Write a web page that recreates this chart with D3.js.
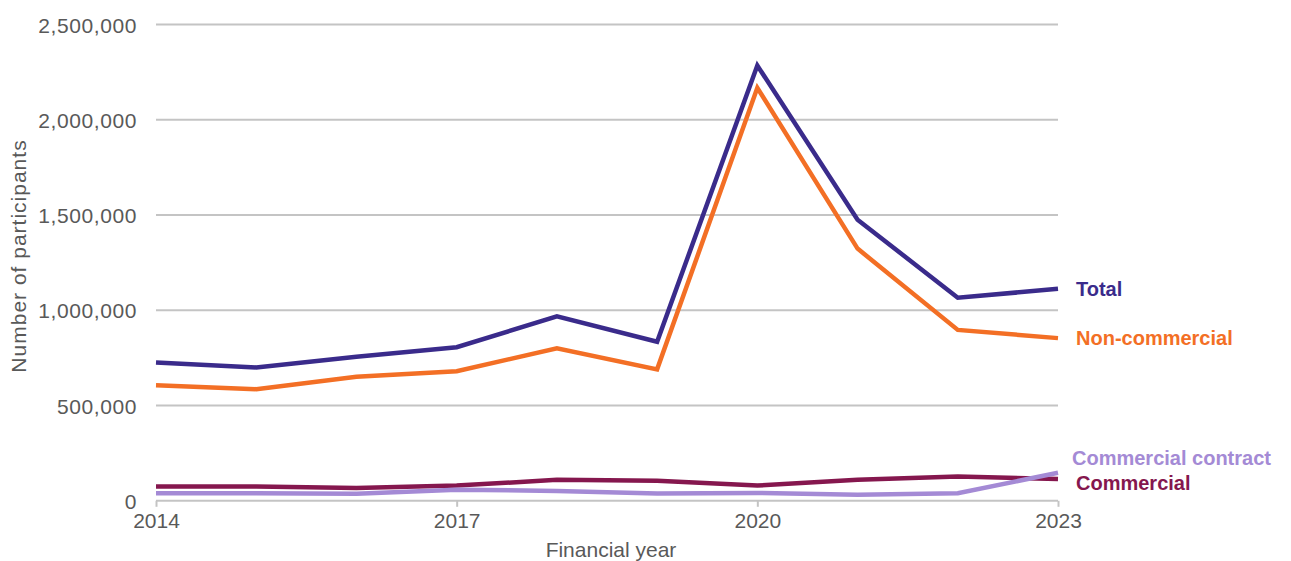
<!DOCTYPE html>
<html>
<head>
<meta charset="utf-8">
<script src="https://cdn.jsdelivr.net/npm/d3@7"></script>
<style>
  html, body { margin: 0; padding: 0; background: #fff; }
  svg { display: block; font-family: "Liberation Sans", Arial, sans-serif; }
</style>
</head>
<body>
<svg id="chart" width="1291" height="561"></svg>
<script>
// Participants by financial year
const years = [2014, 2015, 2016, 2017, 2018, 2019, 2020, 2021, 2022, 2023];
const total = [726000, 700000, 756000, 806000, 968000, 835000, 2285000, 1476000, 1066000, 1113000];
const nonCommercial = [606000, 586000, 651000, 680000, 801000, 690000, 2168000, 1324000, 897000, 854000];
const commercial = [75000, 75000, 67000, 80000, 110000, 105000, 80000, 110000, 127000, 114000];
const commercialContract = [40000, 40000, 37000, 58000, 52000, 38000, 41000, 32000, 40000, 147000];
const yTicks = [0, 500000, 1000000, 1500000, 2000000, 2500000];
const xTicks = [2014, 2017, 2020, 2023];

const seriesNames = ["Commercial", "Commercial contract", "Non-commercial", "Total"];
const seriesValues = [commercial, commercialContract, nonCommercial, total];
const seriesColors = ["#85174e", "#a48ad5", "#f36f25", "#3a2b8b"];
// label baseline offsets so the end labels do not collide
const labelDy = [11, -8, 7, 7];

const svg = d3.select("#chart");
const x = d3.scaleLinear().domain([2014, 2023]).range([156, 1058]);
const y = d3.scaleLinear().domain([0, 2500000]).range([500.8, 24.6]);

const fmt = d3.format(",");
const gridColor = "#c4c4c4";
const textColor = "#595959";

// horizontal gridlines
svg.append("g")
  .selectAll("line")
  .data(yTicks)
  .join("line")
  .attr("x1", x(2014)).attr("x2", x(2023))
  .attr("y1", d => y(d)).attr("y2", d => y(d))
  .attr("stroke", gridColor)
  .attr("stroke-width", 2);

// y axis labels
const yAxis = d3.axisLeft(y).tickValues(yTicks).tickFormat(fmt).tickSize(0).tickPadding(0);
svg.append("g")
  .attr("transform", `translate(137,0)`)
  .call(yAxis)
  .call(g => g.select(".domain").remove())
  .call(g => g.selectAll("text")
    .attr("fill", textColor)
    .attr("font-size", 21)
    .attr("letter-spacing", 0.6)
    .attr("font-family", "'Liberation Sans', Arial, sans-serif")
    .attr("dy", "0.36em"));

// x axis with downward tick marks
const xAxis = d3.axisBottom(x).tickValues(xTicks).tickFormat(d3.format("d")).tickSize(6).tickSizeOuter(0).tickPadding(6);
svg.append("g")
  .attr("transform", `translate(0,${y(0)})`)
  .call(xAxis)
  .call(g => g.select(".domain").remove())
  .call(g => g.selectAll("line").attr("stroke", gridColor).attr("stroke-width", 2))
  .call(g => g.selectAll("text")
    .attr("fill", textColor)
    .attr("font-size", 21)
    .attr("font-family", "'Liberation Sans', Arial, sans-serif"));

// axis titles
svg.append("text")
  .attr("transform", `translate(26,256) rotate(-90)`)
  .attr("text-anchor", "middle")
  .attr("fill", textColor)
  .attr("font-size", 21)
  .attr("letter-spacing", 1)
  .text("Number of participants");

svg.append("text")
  .attr("x", 611)
  .attr("y", 557)
  .attr("text-anchor", "middle")
  .attr("fill", textColor)
  .attr("font-size", 21)
  .text("Financial year");

// series lines
const line = d3.line().x((d, i) => x(years[i])).y(d => y(d));
svg.append("g")
  .selectAll("path")
  .data(seriesValues)
  .join("path")
  .attr("d", d => line(d))
  .attr("fill", "none")
  .attr("stroke", (d, i) => seriesColors[i])
  .attr("stroke-width", 4.5)
  .attr("stroke-linejoin", "miter");

// end labels
svg.append("g")
  .selectAll("text")
  .data(seriesNames)
  .join("text")
  .attr("x", (d, i) => i === 1 ? 1072 : 1076)
  .attr("y", (d, i) => y(seriesValues[i][seriesValues[i].length - 1]) + labelDy[i])
  .attr("fill", (d, i) => seriesColors[i])
  .attr("font-size", 20)
  .attr("font-weight", "bold")
  .text(d => d);
</script>
</body>
</html>
